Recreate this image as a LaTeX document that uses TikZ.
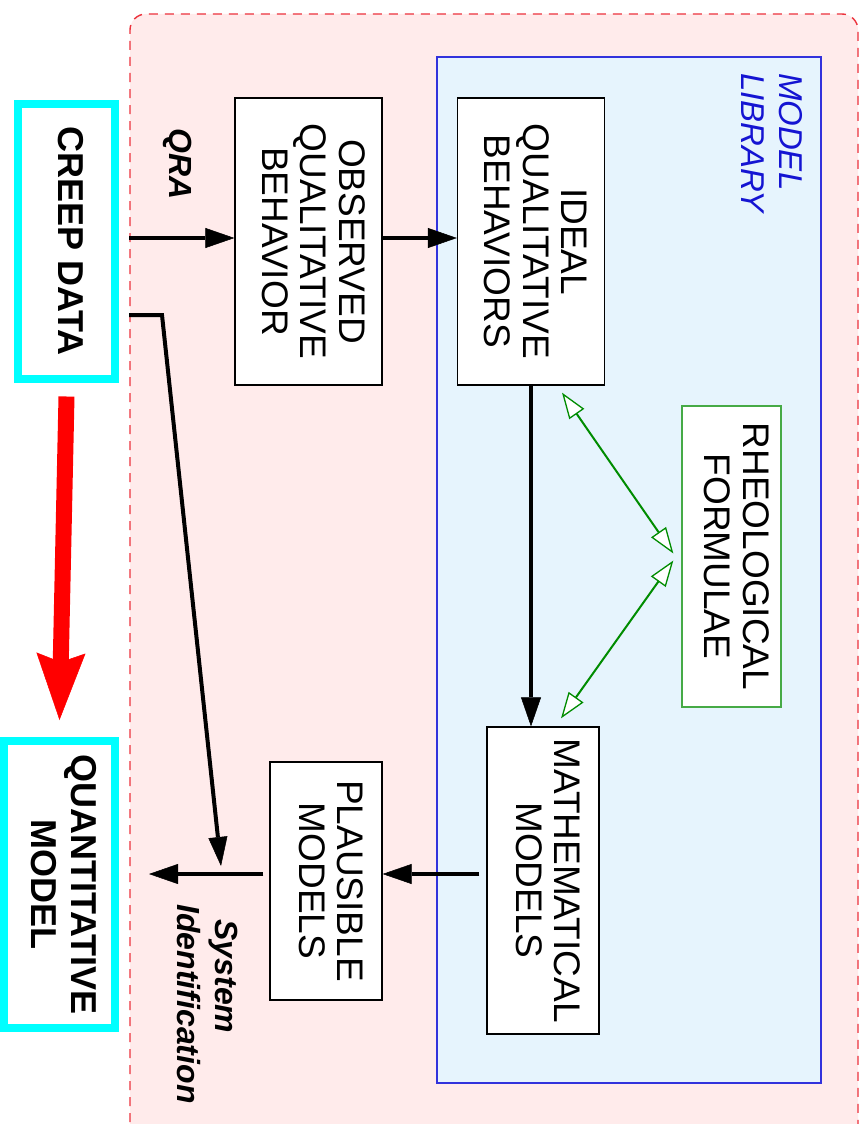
\documentclass[tikz,border=0pt]{standalone}
\usepackage{fontspec}
\setmainfont{Liberation Sans}
\usetikzlibrary{arrows.meta}

\definecolor{pinkbg}{RGB}{255,235,235}
\definecolor{pinkline}{RGB}{236,50,60}
\definecolor{libbg}{RGB}{230,244,253}
\definecolor{libline}{RGB}{50,50,220}
\definecolor{libtext}{RGB}{20,20,210}
\definecolor{grline}{RGB}{0,140,0}
\definecolor{grbox}{RGB}{70,170,70}
\definecolor{aqua}{RGB}{0,255,255}

% text set top-to-bottom, lines centred
\newcommand\rotlines[1]{\rotatebox{-90}{\begin{tabular}{@{}c@{}}#1\end{tabular}}}
\newcommand\rotleft[1]{\rotatebox{-90}{\begin{tabular}{@{}l@{}}#1\end{tabular}}}

\tikzset{
  boxtext/.style={font=\fontsize{37}{38.5}\selectfont},
  plainbox/.style={boxtext, draw=black, line width=1.3pt, fill=white, inner sep=0pt},
  databox/.style={draw=aqua, line width=8pt, fill=white, inner sep=0pt,
                  font=\bfseries\fontsize{36}{40}\selectfont},
  formulabox/.style={boxtext, draw=grbox, line width=1.3pt, fill=white, inner sep=0pt},
  flow/.style={line width=4.8pt, -{Triangle[length=29pt,width=20pt,line width=0.5pt]}},
  bigflow/.style={red, line width=16pt,
                  -{Stealth[length=67pt,width=49pt,inset=9pt,line width=0.5pt]}},
  link/.style={grline, line width=2pt,
               {Triangle[open,length=26pt,width=18pt,line width=1.3pt,fill=white]}-{Triangle[open,length=26pt,width=18pt,line width=1.3pt,fill=white]}},
  tag/.style={font=\bfseries\itshape\fontsize{32}{38}\selectfont, inner sep=0pt},
}

\begin{document}
\begin{tikzpicture}[x=1pt,y=-1pt]
\clip (0,0) rectangle (862,1124);
\fill[white] (0,0) rectangle (862,1124);

% shaded working area and the model library panel
\draw[pinkline, line width=1.4pt, dash pattern=on 9pt off 7pt, fill=pinkbg,
      rounded corners=16pt] (130,1170) rectangle (858,14);
\draw[libline, line width=1.2pt, fill=libbg] (437,57) rectangle (821,1083);

\node[libtext, font=\itshape\fontsize{33}{38}\selectfont, inner sep=0pt] (lib)
  at (768,143) {\rotleft{MODEL\\LIBRARY}};

% boxes
\node[databox, minimum width=97pt, minimum height=275pt] (creep) at (66.5,241)
  {\rotlines{CREEP DATA}};
\node[databox, minimum width=111pt, minimum height=287pt] (quant) at (59.5,884.5)
  {\rotlines{QUANTITATIVE\\MODEL}};
\node[plainbox, minimum width=147pt, minimum height=287pt] (obs) at (308.5,241.5)
  {\rotlines{OBSERVED\\QUALITATIVE\\BEHAVIOR}};
\node[plainbox, minimum width=147pt, minimum height=287pt] (ideal) at (531,241.5)
  {\rotlines{IDEAL\\QUALITATIVE\\BEHAVIORS}};
\node[formulabox, minimum width=99pt, minimum height=301pt] (rheo) at (731.5,556.5)
  {\rotlines{RHEOLOGICAL\\FORMULAE}};
\node[plainbox, minimum width=112pt, minimum height=307pt] (math) at (543,880.5)
  {\rotlines{MATHEMATICAL\\MODELS}};
\node[plainbox, minimum width=112pt, minimum height=238pt] (plaus) at (326,881)
  {\rotlines{PLAUSIBLE\\MODELS}};

% labels of the two stages
\node[tag, rotate=-90] (qra) at (178,164) {QRA};
\node[tag] (sysid) at (204,1004)
  {\rotleft{\hspace*{15pt}System\\Identification}};

% routing helpers
\coordinate (r1) at (0,238);
\coordinate (r2) at (0,315);
\coordinate (mp) at (0,874);
\coordinate (sj) at (221,866);
\coordinate (qout) at (149,874);

% main flow
\draw[flow] ([xshift=10pt]creep.east |- r1) -- (obs.west |- r1);
\draw[flow] (obs.east |- r1) -- (ideal.west |- r1);
\draw[flow] (ideal.south) -- (ideal.south |- math.north);
\draw[flow] ([xshift=-7pt]math.west |- mp) -- (plaus.east |- mp);
\draw[flow] ([xshift=-6pt]plaus.west |- mp) -- (qout);
\draw[line width=4pt, -{Triangle[length=29pt,width=19pt,line width=0.5pt]}]
  ([xshift=10pt]creep.east |- r2) -- ++(33,0) -- (sj);

% overall direction
\draw[bigflow] ([yshift=-14pt]creep.south) -- ([yshift=17pt]quant.north);

% formulae shared by both library levels
\draw[link] ([shift={(31,7)}]ideal.south) -- ([shift={(-8,-3)}]rheo.west);
\draw[link] ([shift={(-8,4)}]rheo.west) -- ([shift={(18,-8)}]math.north);
\end{tikzpicture}
\end{document}
